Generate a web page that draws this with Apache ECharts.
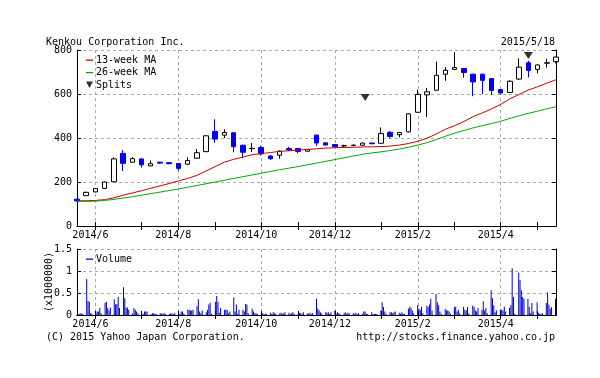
<!DOCTYPE html>
<html><head><meta charset="utf-8">
<script src="https://cdn.jsdelivr.net/npm/echarts@6/dist/echarts.min.js"></script>
<style>html,body{margin:0;padding:0;background:#fff}#c{width:600px;height:378px}</style>
</head><body><div id="c"></div>
<script>
// weekly candles (Monday of each week)
const weeks = ['2014-05-19','2014-05-26','2014-06-02','2014-06-09','2014-06-16','2014-06-23','2014-06-30',
'2014-07-07','2014-07-14','2014-07-21','2014-07-28','2014-08-04','2014-08-11','2014-08-18','2014-08-25',
'2014-09-01','2014-09-08','2014-09-15','2014-09-22','2014-09-29','2014-10-06','2014-10-13','2014-10-20','2014-10-27',
'2014-11-03','2014-11-10','2014-11-17','2014-11-24','2014-12-01','2014-12-08','2014-12-15','2014-12-22','2014-12-29',
'2015-01-05','2015-01-12','2015-01-19','2015-01-26','2015-02-02','2015-02-09','2015-02-16','2015-02-23',
'2015-03-02','2015-03-09','2015-03-16','2015-03-23','2015-03-30','2015-04-06','2015-04-13','2015-04-20','2015-04-27',
'2015-05-04','2015-05-11','2015-05-18'];
const open  = [122,138,155,171,201,330,290,305,273,290,288,284,281,308,338,430,413,424,367,352,357,318,322,352,352,340,413,378,370,364,366,367,377,376,426,415,428,517,596,617,690,712,716,690,690,670,620,607,668,742,712,740,747];
const close = [114,153,170,200,305,285,306,278,283,286,283,262,298,333,410,395,425,360,335,353,328,306,340,346,339,348,377,368,360,365,367,377,374,420,407,425,510,598,610,685,708,720,698,655,662,616,605,658,722,707,732,742,768];
const low   = [110,136,153,170,200,250,288,265,272,282,281,252,278,306,336,378,400,335,308,337,320,300,305,340,330,338,364,366,357,358,362,365,372,374,398,403,426,515,495,615,660,710,674,590,600,595,597,605,664,675,694,720,740];
const high  = [124,156,172,202,312,345,313,308,298,292,290,286,312,350,412,485,440,426,370,378,365,322,344,360,354,350,416,380,372,370,372,379,379,448,432,428,512,620,628,747,722,790,718,692,692,672,622,662,762,751,735,760,770];
const ma13  = [114,115,116,120,128,140,150,160,172,182,193,205,216,230,250,270,290,303,313,324,329,334,339,342,345,348,351,354,356,357,358,359,360,361,363,368,375,385,399,418,440,456,475,497,514,532,553,578,598,618,633,649,665];
const ma26  = [112,112,113,116,121,127,133,140,147,154,161,168,176,184,192,200,208,216,224,232,240,248,256,263,270,278,286,294,302,310,318,326,332,337,343,350,358,368,379,393,408,422,434,446,456,466,476,489,501,512,522,533,542];
const splitDates  = ['2014-12-24','2015-04-27'];
const splitLevels = [584, 775];
// daily volume (x1,000,000), Mon..Fri per week
const volumeByWeek = [
[0.03,0.02,0.04,0.03,0.03],[0.82,0.32,0.30,0.04,0.03],[0.05,0.08,0.08,0.16,0.04],[0.28,0.30,0.16,0.10,0.17],
[0.36,0.24,0.25,0.41,0.16],[0.63,0.38,0.17,0.17,0.12],[0.04,0.16,0.12,0.08,0.04],[0.04,0.02,0.08,0.08,0.08],
[0.02,0.04,0.04,0.03,0.02],[0.04,0.03,0.03,0.04,0.02],[0.02,0.04,0.03,0.02,0.04],[0.08,0.02,0.08,0.08,0.03],
[0.12,0.12,0.10,0.10,0.12],[0.20,0.36,0.08,0.04,0.10],[0.06,0.12,0.24,0.28,0.03],[0.30,0.43,0.30,0.05,0.16],
[0.12,0.12,0.12,0.04,0.08],[0.40,0.08,0.24,0.03,0.12],[0.12,0.08,0.25,0.24,0.04],[0.14,0.08,0.04,0.04,0.02],
[0.04,0.04,0.02,0.03,0.02],[0.05,0.02,0.06,0.04,0.02],[0.04,0.05,0.02,0.04,0.06],[0.05,0.02,0.04,0.06,0.03],
[0.02,0.05,0.04,0.03,0.06],[0.04,0.03,0.05,0.02,0.04],[0.37,0.15,0.10,0.06,0.03],[0.06,0.05,0.06,0.02,0.06],
[0.10,0.03,0.06,0.04,0.02],[0.04,0.06,0.03,0.05,0.04],[0.04,0.03,0.05,0.02,0.04],[0.03,0.08,0.08,0.03,0.02],
[0.06,0.02,0.03,0.02,0.02],[0.10,0.29,0.18,0.08,0.03],[0.06,0.06,0.04,0.06,0.08],[0.05,0.03,0.06,0.03,0.03],
[0.14,0.19,0.16,0.10,0.04],[0.23,0.14,0.12,0.19,0.04],[0.21,0.18,0.24,0.37,0.10],[0.48,0.29,0.22,0.08,0.03],
[0.14,0.10,0.10,0.08,0.03],[0.19,0.19,0.08,0.12,0.04],[0.19,0.12,0.10,0.18,0.04],[0.21,0.19,0.10,0.08,0.16],
[0.12,0.31,0.10,0.16,0.04],[0.56,0.38,0.22,0.06,0.10],[0.12,0.12,0.10,0.19,0.08],[0.16,0.22,1.06,0.41,0.03],
[0.96,0.79,0.56,0.41,0.37],[0.37,0.19,0.04,0.27,0.08],[0.29,0.05,0.03,0.02,0.04],[0.27,0.51,0.24,0.14,0.18],
[0.37]];

const FONT = 'DejaVu Sans Mono';
const candleData = weeks.map((w, i) => [open[i], close[i], low[i], high[i]]);
const volumeData = [];
volumeByWeek.forEach((days, wi) => {
  const base = new Date(weeks[wi] + 'T00:00:00');
  days.forEach((v, d) => {
    const t = new Date(base.getTime() + d * 86400000);
    volumeData.push([t.getTime(), v]);
  });
});
const splitData = splitDates.map((d, i) => [d, splitLevels[i]]);
const monthOf = s => +s.slice(5, 7);
const isMonthStart = i => i > 0 && monthOf(weeks[i]) !== monthOf(weeks[i - 1]);
const isLabeled = i => isMonthStart(i) && monthOf(weeks[i]) % 2 === 0;
const fmt = s => s.slice(0, 4) + '/' + monthOf(s);

function catAxis(grid, pos, labels) {
  return {
    type: 'category', gridIndex: grid, position: pos, data: weeks, boundaryGap: false,
    axisLine: { show: true, lineStyle: { color: '#000', width: 1 } },
    axisTick: { show: true, inside: true, length: 4, interval: (i) => isMonthStart(i), lineStyle: { color: '#000' } },
    axisLabel: { show: labels, interval: (i) => isLabeled(i), formatter: fmt, color: '#000',
      fontFamily: FONT, fontSize: 10, margin: 4, padding: [0, 10, 0, 0] },
    splitLine: { show: labels, interval: (i) => isLabeled(i), lineStyle: { color: '#aaa', type: [3, 3] } }
  };
}
function valAxis(grid, pos, min, max, interval, labels, extra) {
  return Object.assign({
    type: 'value', gridIndex: grid, position: pos, min, max, interval,
    axisLine: { show: true, lineStyle: { color: '#000', width: 1 } },
    axisTick: { show: true, inside: true, length: 4, lineStyle: { color: '#000' } },
    axisLabel: { show: labels, color: '#000', fontFamily: FONT, fontSize: 10, margin: 5 },
    splitLine: { show: labels, lineStyle: { color: '#aaa', type: [3, 3] } }
  }, extra || {});
}
const txt = { fontFamily: FONT, fontSize: 10, fontWeight: 'normal', color: '#000' };
const dashIcon = 'path://M0,0L0.01,0M0,4.5h7v1.2h-7zM7,10L6.99,10';
const triIcon = 'path://M0,1.5L7,1.5L3.5,8Z M0,0L0.01,0 M7,10L6.99,10';

const option = {
  animation: false,
  backgroundColor: '#fff',
  title: [
    { text: 'Kenkou Corporation Inc.', left: 46, top: 37, padding: 0, textStyle: txt },
    { text: '2015/5/18', right: 45, top: 37, padding: 0, textStyle: txt },
    { text: '(C) 2015 Yahoo Japan Corporation.', left: 46, top: 332, padding: 0, textStyle: txt },
    { text: 'http://stocks.finance.yahoo.co.jp', right: 45, top: 332, padding: 0, textStyle: txt }
  ],
  legend: [
    { left: 86, top: 55, orient: 'vertical', itemWidth: 7, itemHeight: 10, itemGap: 2.5, padding: 0,
      textStyle: { fontFamily: FONT, fontSize: 10, color: '#000', padding: [0, 0, 0, -2] }, selectedMode: false,
      data: [{ name: '13-week MA', icon: dashIcon }, { name: '26-week MA', icon: dashIcon }, { name: 'Splits', icon: triIcon }] },
    { left: 86, top: 254, orient: 'vertical', itemWidth: 7, itemHeight: 10, padding: 0,
      textStyle: { fontFamily: FONT, fontSize: 10, color: '#000', padding: [0, 0, 0, -2] }, selectedMode: false,
      data: [{ name: 'Volume', icon: dashIcon }] }
  ],
  grid: [
    { left: 77, right: 44, top: 50, height: 176 },
    { left: 77, right: 44, top: 249, height: 66 }
  ],
  xAxis: [
    catAxis(0, 'bottom', true),
    catAxis(0, 'top', false),
    catAxis(1, 'bottom', true),
    catAxis(1, 'top', false),
    { type: 'time', gridIndex: 0, show: false, min: weeks[0], max: weeks[weeks.length - 1] },
    { type: 'time', gridIndex: 1, show: false, min: weeks[0], max: weeks[weeks.length - 1] }
  ],
  yAxis: [
    valAxis(0, 'left', 0, 800, 200, true),
    valAxis(0, 'right', 0, 800, 200, false),
    valAxis(1, 'left', 0, 1.5, 0.5, true, { name: '(x1000000)', nameLocation: 'middle', nameRotate: 90, nameGap: 28,
      nameMoveOverlap: false,
      nameTextStyle: { fontFamily: FONT, fontSize: 10, color: '#000', verticalAlign: 'middle' } }),
    valAxis(1, 'right', 0, 1.5, 0.5, false)
  ],
  series: [
    { name: 'Price', type: 'candlestick', xAxisIndex: 0, yAxisIndex: 0, data: candleData, barWidth: 5, clip: true,
      itemStyle: { color: '#fff', color0: '#0000ee', borderColor: '#000', borderColor0: '#0000ee', borderWidth: 1 } },
    { name: '13-week MA', type: 'line', xAxisIndex: 0, yAxisIndex: 0, data: ma13, symbol: 'none',
      lineStyle: { color: '#cc0000', width: 1 }, itemStyle: { color: '#cc0000' } },
    { name: '26-week MA', type: 'line', xAxisIndex: 0, yAxisIndex: 0, data: ma26, symbol: 'none',
      lineStyle: { color: '#00aa00', width: 1 }, itemStyle: { color: '#00aa00' } },
    { name: 'Splits', type: 'scatter', xAxisIndex: 4, yAxisIndex: 0, data: splitData,
      symbol: 'path://M0,0L10,0L5,7Z', symbolSize: [9, 7], itemStyle: { color: '#000' } },
    { name: 'Volume', type: 'bar', xAxisIndex: 5, yAxisIndex: 2, data: volumeData, barWidth: 1,
      itemStyle: { color: '#0000cc' } }
  ]
};
const chart = echarts.init(document.getElementById('c'), null, { renderer: 'canvas' });
chart.setOption(option);
</script></body></html>
